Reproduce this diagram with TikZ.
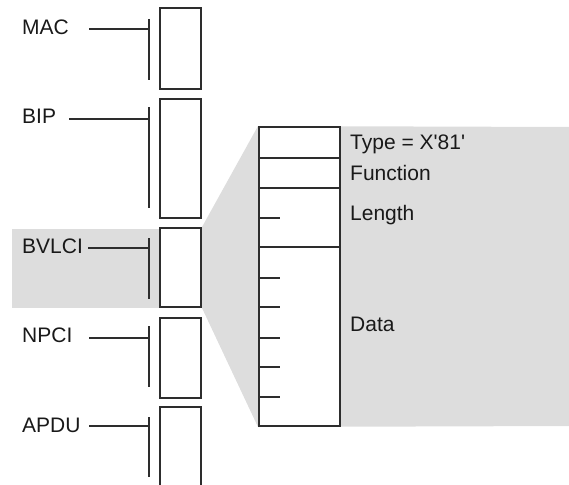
\documentclass[tikz,border=0pt]{standalone}
\usepackage{fontspec}
\setmainfont{Liberation Sans}
\usetikzlibrary{backgrounds}

\definecolor{linecol}{RGB}{45,45,45}
\definecolor{shadecol}{RGB}{221,221,221}

\tikzset{
  unit/.style={draw=linecol, fill=white, line width=2pt, minimum width=41pt, inner sep=0pt},
  field/.style={draw=linecol, fill=white, line width=2pt, minimum width=81pt, inner sep=0pt},
  lbl/.style={anchor=base west, inner sep=0pt, text=black!90, font=\fontsize{21}{23}\selectfont},
  bar/.style={draw=linecol, line width=2pt},
}

\begin{document}
\begin{tikzpicture}[x=1pt, y=-1pt]

\useasboundingbox (0,0) rectangle (569,484);

% Left stack of headers
\node[unit, minimum height=81pt] (mac) at (180.5,48.5) {};
\node[unit, minimum height=119pt] (bip) at (180.5,158.5) {};
\node[unit, minimum height=79pt] (bvlci) at (180.5,267.5) {};
\node[unit, minimum height=80pt] (npci) at (180.5,358) {};
\draw[bar] (160,490) -- (160,407) -- (201,407) -- (201,490);

% Labels
\node[lbl] (maclbl) at (22,35) {MAC};
\node[lbl] (biplbl) at (22,123) {BIP};
\node[lbl] (bvlcilbl) at (22,253) {BVLCI};
\node[lbl] (npcilbl) at (22,342) {NPCI};
\node[lbl] (apdulbl) at (22,432) {APDU};

% Brackets
\coordinate (macj) at (149,29);
\coordinate (bipj) at (149,119);
\coordinate (bvlcij) at (149,248);
\coordinate (npcij) at (149,338);
\coordinate (apduj) at (149,426);
\draw[bar] (149,19) -- (149,80);
\draw[bar] (149,107) -- (149,208);
\draw[bar] (149,238) -- (149,299);
\draw[bar] (149,326) -- (149,387);
\draw[bar] (149,417) -- (149,477);
\draw[bar] ([xshift=-60pt]macj) -- (macj);
\draw[bar] ([xshift=-80pt]bipj) -- (bipj);
\draw[bar] ([xshift=-61pt]bvlcij) -- (bvlcij);
\draw[bar] ([xshift=-60pt]npcij) -- (npcij);
\draw[bar] ([xshift=-60pt]apduj) -- (apduj);

% BVLCI fields
\node[field, minimum height=31pt] (typefld) at (299.5,142.5) {};
\node[field, minimum height=30pt] (funcfld) at (299.5,173) {};
\node[field, minimum height=59pt] (lenfld) at (299.5,217.5) {};
\node[field, minimum height=179pt] (datafld) at (299.5,336.5) {};

% Octet ticks
\draw[bar] (lenfld.west) -- ++(22,0);
\foreach \yy in {278,307,338,367,397}
  \draw[bar] (datafld.west |- 0,\yy) -- ++(22,0);

\node[lbl] (typelbl) at (350,149) {Type = X\textquotesingle 81\textquotesingle};
\node[lbl] (funclbl) at (350,180) {Function};
\node[lbl] (lenlbl) at (350,220) {Length};
\node[lbl] (datalbl) at (350,331) {Data};

% Shading
\begin{scope}[on background layer]
  \fill[shadecol] (12,229) rectangle (180,308);
  \fill[shadecol] (bvlci.north east) -- (typefld.north west) -- (569,127)
    -- (569,426) -- (datafld.south west) -- (bvlci.south east) -- cycle;
\end{scope}

\end{tikzpicture}
\end{document}
